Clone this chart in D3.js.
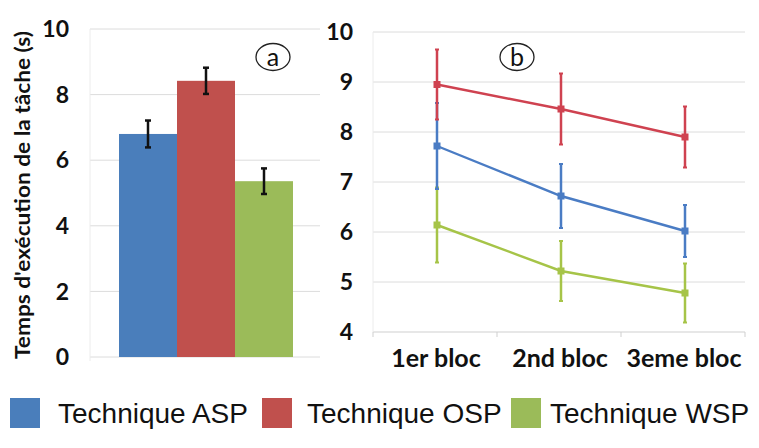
<html>
  <head>
    <meta charset="utf-8">
    <title>Temps d'exécution</title>
    <script src="https://d3js.org/d3.v7.min.js"></script>
    <style>
      body { margin: 0; background: #fff; }
    </style>
  </head>
  <body>

    <svg id="grafico" width="759" height="448"></svg>

    <script>
    // donnees
    let techniques = ["Technique ASP", "Technique OSP", "Technique WSP"];
    let blocs = ["1er bloc", "2nd bloc", "3eme bloc"];
    let barMeans = [6.8, 8.42, 5.36];
    let barErr = [0.41, 0.4, 0.39];
    let aspMeans = [7.72, 6.72, 6.02];
    let aspErr = [0.86, 0.64, 0.52];
    let ospMeans = [8.95, 8.46, 7.9];
    let ospErr = [0.7, 0.71, 0.61];
    let wspMeans = [6.14, 5.22, 4.78];
    let wspErr = [0.75, 0.6, 0.59];
    let ticksA = [0, 2, 4, 6, 8, 10];
    let ticksB = [4, 5, 6, 7, 8, 9, 10];

    let barColors = ["#4a7ebb", "#c0504d", "#9bbb59"];
    let lineColors = ["#4a7cc4", "#cf4250", "#a6c448"];
    let gridColor = "#dcdcdc";
    let tickFont = "Lato, 'Open Sans', sans-serif";

    let svg = d3.select("svg");

    // ---- panneau a ----
    let yA = d3.scaleLinear().domain([0, 10]).range([357, 29]);
    let xA = d3.scaleBand().domain(techniques).range([119, 293]);
    let gA = svg.append("g");

    gA.selectAll("line.grid")
      .data(ticksA)
      .enter()
      .append("line")
      .attr("x1", 90).attr("x2", 320)
      .attr("y1", d => yA(d)).attr("y2", d => yA(d))
      .attr("stroke", gridColor).attr("stroke-width", 1);
    gA.append("line")
      .attr("x1", 90).attr("x2", 90)
      .attr("y1", yA(10)).attr("y2", yA(0) + 4)
      .attr("stroke", "#ececec");

    gA.selectAll("text.tick")
      .data(ticksA)
      .enter()
      .append("text")
      .attr("x", 69)
      .attr("y", d => yA(d))
      .attr("dy", "0.36em")
      .attr("text-anchor", "end")
      .attr("font-family", tickFont)
      .attr("font-weight", "bold")
      .attr("font-size", 23)
      .attr("fill", "#111")
      .text(d => d);

    gA.selectAll("rect")
      .data(techniques)
      .enter()
      .append("rect")
      .attr("x", d => xA(d))
      .attr("width", xA.bandwidth())
      .attr("y", (d, i) => yA(barMeans[i]))
      .attr("height", (d, i) => yA(0) - yA(barMeans[i]))
      .attr("fill", (d, i) => barColors[i]);

    techniques.forEach(function(t, i){
      let cx = xA(t) + xA.bandwidth() / 2;
      let top = yA(barMeans[i] + barErr[i]);
      let bot = yA(barMeans[i] - barErr[i]);
      gA.append("line").attr("x1", cx).attr("x2", cx).attr("y1", top).attr("y2", bot)
        .attr("stroke", "#111").attr("stroke-width", 2.5);
      [top, bot].forEach(function(y){
        gA.append("line").attr("x1", cx - 3).attr("x2", cx + 3).attr("y1", y).attr("y2", y)
          .attr("stroke", "#111").attr("stroke-width", 2.5);
      });
    });

    svg.append("text")
      .attr("transform", "translate(30," + 195 + ") rotate(-90)")
      .attr("text-anchor", "middle")
      .attr("font-family", tickFont)
      .attr("font-weight", "bold")
      .attr("font-size", 21)
      .attr("textLength", 328)
      .attr("lengthAdjust", "spacingAndGlyphs")
      .attr("fill", "#111")
      .text("Temps d'exécution de la tâche (s)");

    // ---- panneau b ----
    let yB = d3.scaleLinear().domain([4, 10]).range([332, 32]);
    let xB = d3.scaleBand().domain(blocs).range([373, 745]);
    let gB = svg.append("g");

    gB.selectAll("line.grid")
      .data(ticksB)
      .enter()
      .append("line")
      .attr("x1", 373).attr("x2", 745)
      .attr("y1", d => yB(d)).attr("y2", d => yB(d))
      .attr("stroke", d => d === 4 ? "#cfcfcf" : gridColor).attr("stroke-width", 1);
    gB.append("line")
      .attr("x1", 373).attr("x2", 373)
      .attr("y1", yB(10)).attr("y2", yB(4))
      .attr("stroke", "#ececec");
    let edges = blocs.map(d => xB(d)).concat([745]);
    gB.selectAll("line.tk")
      .data(edges)
      .enter()
      .append("line")
      .attr("x1", d => d).attr("x2", d => d)
      .attr("y1", yB(4)).attr("y2", yB(4) + 5)
      .attr("stroke", "#cfcfcf");

    gB.selectAll("text.tick")
      .data(ticksB)
      .enter()
      .append("text")
      .attr("x", 353)
      .attr("y", d => yB(d))
      .attr("dy", "0.36em")
      .attr("text-anchor", "end")
      .attr("font-family", tickFont)
      .attr("font-weight", "bold")
      .attr("font-size", 23)
      .attr("fill", "#111")
      .text(d => d);

    gB.selectAll("text.cat")
      .data(blocs)
      .enter()
      .append("text")
      .attr("x", d => xB(d) + xB.bandwidth() / 2 + 1)
      .attr("y", 367)
      .attr("text-anchor", "middle")
      .attr("font-family", tickFont)
      .attr("font-weight", "bold")
      .attr("font-size", 25)
      .attr("fill", "#111")
      .text(d => d);

    let series = [
      {means: aspMeans, err: aspErr, color: lineColors[0]},
      {means: ospMeans, err: ospErr, color: lineColors[1]},
      {means: wspMeans, err: wspErr, color: lineColors[2]}
    ];
    let cxB = d => xB(d) + xB.bandwidth() / 2 + 2;
    let line = d3.line().x(d => cxB(d.cat)).y(d => yB(d.v));

    // ordre de dessin : vert, bleu, rouge
    [2, 0, 1].forEach(function(k){
      let s = series[k];
      let pts = blocs.map((c, i) => ({cat: c, v: s.means[i], e: s.err[i]}));
      let g = gB.append("g");
      g.selectAll("line.err")
        .data(pts)
        .enter()
        .append("line")
        .attr("x1", d => cxB(d.cat)).attr("x2", d => cxB(d.cat))
        .attr("y1", d => yB(d.v + d.e)).attr("y2", d => yB(d.v - d.e))
        .attr("stroke", s.color).attr("stroke-width", 2.5);
      pts.forEach(function(d){
        [d.v + d.e, d.v - d.e].forEach(function(v){
          g.append("line")
            .attr("x1", cxB(d.cat) - 2).attr("x2", cxB(d.cat) + 2)
            .attr("y1", yB(v)).attr("y2", yB(v))
            .attr("stroke", s.color).attr("stroke-width", 2);
        });
      });
      g.append("path")
        .attr("d", line(pts))
        .attr("fill", "none")
        .attr("stroke", s.color)
        .attr("stroke-width", 2.4);
      g.selectAll("rect")
        .data(pts)
        .enter()
        .append("rect")
        .attr("x", d => cxB(d.cat) - 3.5).attr("y", d => yB(d.v) - 3.5)
        .attr("width", 7).attr("height", 7)
        .attr("fill", s.color);
    });

    // etiquettes a et b
    [{x: 273, y: 57, t: "a"}, {x: 517, y: 57, t: "b"}].forEach(function(l){
      svg.append("ellipse")
        .attr("cx", l.x).attr("cy", l.y).attr("rx", 17).attr("ry", 13.5)
        .attr("fill", "#fff").attr("stroke", "#222").attr("stroke-width", 1.3);
      svg.append("text")
        .attr("x", l.x).attr("y", l.y)
        .attr("dy", "0.36em")
        .attr("text-anchor", "middle")
        .attr("font-family", "Lato, 'Open Sans', sans-serif")
        .attr("font-size", 25)
        .attr("fill", "#111")
        .text(l.t);
    });

    // legende
    let legX = [10, 262, 511];
    let legTextX = [58, 307, 550];
    let leg = svg.append("g");
    leg.selectAll("rect")
      .data(techniques)
      .enter()
      .append("rect")
      .attr("x", (d, i) => legX[i]).attr("y", 398)
      .attr("width", 30).attr("height", 30)
      .attr("fill", (d, i) => barColors[i]);
    leg.selectAll("text")
      .data(techniques)
      .enter()
      .append("text")
      .attr("x", (d, i) => legTextX[i])
      .attr("y", 423)
      .attr("font-family", "'Liberation Sans', Arial, sans-serif")
      .attr("font-size", 28)
      .attr("fill", "#111")
      .text(d => d);
    </script>

  </body>
</html>
